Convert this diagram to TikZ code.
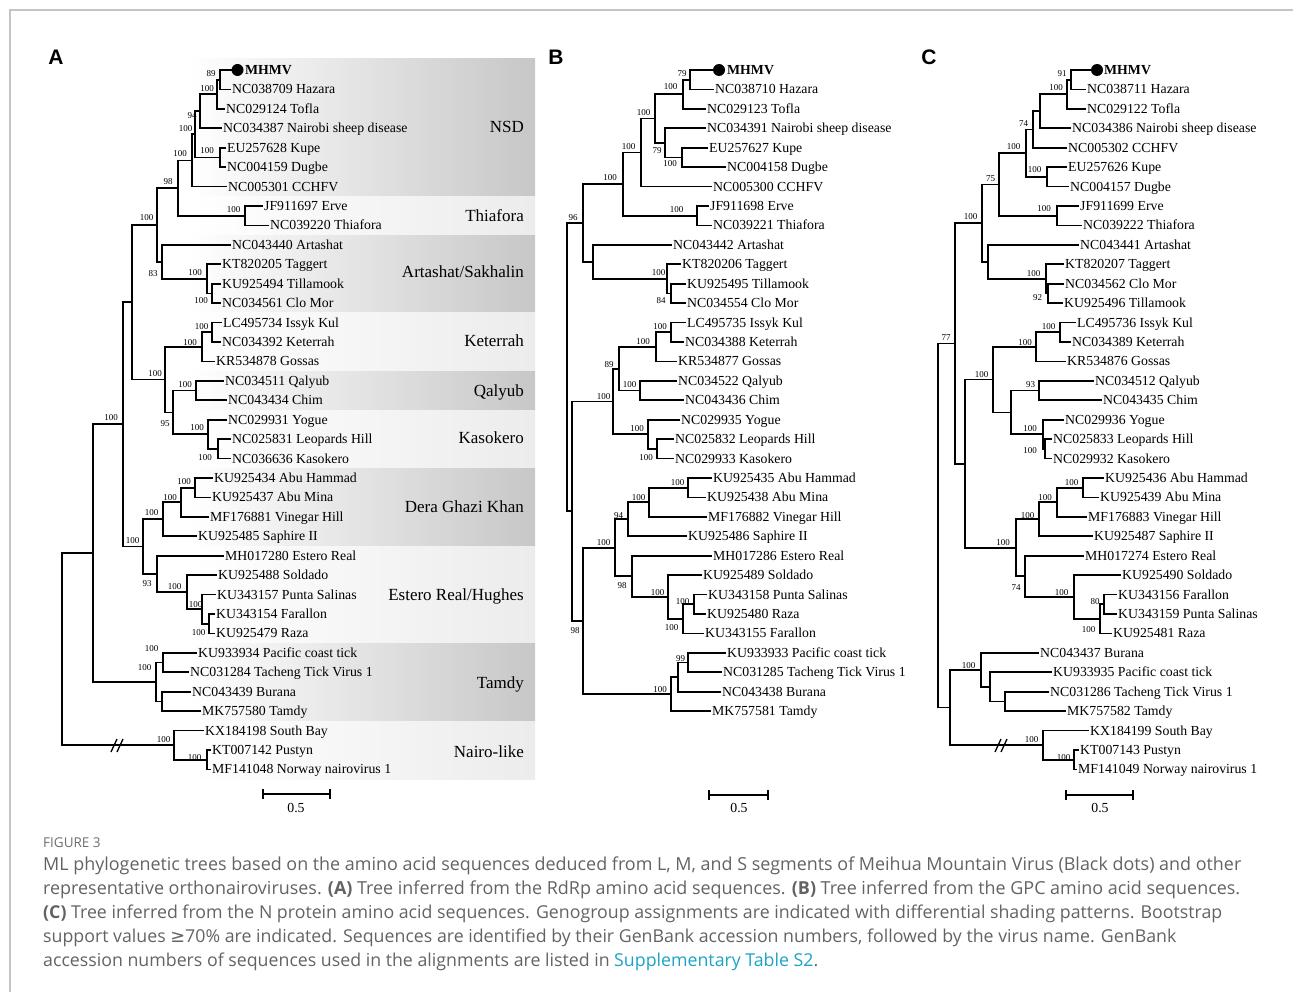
\documentclass[tikz,border=0pt]{standalone}
\usepackage{fontspec}
\usepackage{graphicx}
\setmainfont{Liberation Serif}
\newfontfamily\panelfont{Liberation Sans}
\newfontfamily\capfont{Open Sans}
\newfontfamily\symfont{DejaVu Sans}
\definecolor{bandD}{gray}{0.78}
\definecolor{bandL}{gray}{0.925}
\definecolor{captext}{HTML}{636363}
\definecolor{figlab}{HTML}{6E6E6E}
\definecolor{linkc}{HTML}{1BA3C6}
\definecolor{framec}{HTML}{C4C4C4}
\tikzset{
  br/.style={line width=1.75pt, line join=miter, line cap=rect},
  brk/.style={line width=1.3pt},
  leaf/.style={anchor=west, inner xsep=2pt, inner ysep=0pt, text height=9.1pt, text depth=0pt, font=\fontsize{13.8}{14}\selectfont},
  bs/.style={inner sep=0pt, text height=6.1pt, text depth=0pt, font=\fontsize{9}{10}\selectfont},
  bandlab/.style={anchor=east, inner sep=0pt, text height=11.3pt, text depth=0pt, font=\fontsize{17}{18}\selectfont},
  dot/.style={circle, fill=black, minimum size=12pt, inner sep=0pt},
  panel/.style={inner sep=0pt, font=\panelfont\bfseries\fontsize{21}{22}\selectfont},
  capline/.style={anchor=base west, inner sep=0pt, text=captext},
  sbar/.style={line width=1.75pt},
  sblab/.style={inner sep=0pt, text height=9.1pt, text depth=0pt, font=\fontsize{13.8}{14}\selectfont},
}
\newcommand\tleaf[4]{\coordinate (#1) at (#2,#3); \node[leaf] (#1t) at (#1) {#4};}
\newcommand\tjoin[3]{\draw[br] (#2) -| (#1) |- (#3);}
\newcommand\bsv[4]{\node[bs] (#1) at (#2,#3) {#4};}
\begin{document}
\begin{tikzpicture}[x=1pt,y=-1pt]
\useasboundingbox (0,0) rectangle (1293,992);
\draw[framec, line width=1.3pt] (10,992) -- (10,10) -- (1293,10);

% ---------- bands of tree A
\shade[left color=white, right color=bandD] (190,59) rectangle (535,196.4);
\shade[left color=white, right color=bandL] (190,196.4) rectangle (535,235.2);
\shade[left color=white, right color=bandD] (190,235.2) rectangle (535,313.0);
\shade[left color=white, right color=bandL] (190,313.0) rectangle (535,371.3);
\shade[left color=white, right color=bandD] (190,371.3) rectangle (535,410.2);
\shade[left color=white, right color=bandL] (190,410.2) rectangle (535,468.5);
\shade[left color=white, right color=bandD] (190,468.5) rectangle (535,546.3);
\shade[left color=white, right color=bandL] (190,546.3) rectangle (535,643.5);
\shade[left color=white, right color=bandD] (190,643.5) rectangle (535,721.2);
\shade[left color=white, right color=bandL] (190,721.2) rectangle (535,779.6);
\node[bandlab] (gNSD) at (524,127) {NSD};
\node[bandlab] (gThi) at (524,216) {Thiafora};
\node[bandlab] (gArt) at (524,272) {Artashat/Sakhalin};
\node[bandlab] (gKet) at (524,341) {Keterrah};
\node[bandlab] (gQal) at (524,391) {Qalyub};
\node[bandlab] (gKas) at (524,438) {Kasokero};
\node[bandlab] (gDGK) at (524,507) {Dera Ghazi Khan};
\node[bandlab] (gEst) at (524,595) {Estero Real/Hughes};
\node[bandlab] (gTam) at (524,683) {Tamdy};
\node[bandlab] (gNai) at (524,752) {Nairo-like};

\node[panel] (pA) at (56,57) {A};
\node[panel] (pB) at (556,57) {B};
\node[panel] (pC) at (929,57) {C};

% ---------- tree A
\begin{scope}[shift={(0,70)}, yscale=19.44]
\coordinate (A0) at (232,0);
\node[dot] (A0d) at (237.5,0) {};
\node[leaf] (A0t) at (243,0) {\textbf{MHMV}};
\tleaf{A1}{230}{1}{NC038709 Hazara}
\tleaf{A2}{224}{2}{NC029124 Tofla}
\tleaf{A3}{221}{3}{NC034387 Nairobi sheep disease}
\tleaf{A4}{225}{4}{EU257628 Kupe}
\tleaf{A5}{225}{5}{NC004159 Dugbe}
\tleaf{A6}{226}{6}{NC005301 CCHFV}
\tleaf{A7}{262}{7}{JF911697 Erve}
\tleaf{A8}{268}{8}{NC039220 Thiafora}
\tleaf{A9}{230}{9}{NC043440 Artashat}
\tleaf{A10}{220}{10}{KT820205 Taggert}
\tleaf{A11}{220}{11}{KU925494 Tillamook}
\tleaf{A12}{220}{12}{NC034561 Clo Mor}
\tleaf{A13}{221}{13}{LC495734 Issyk Kul}
\tleaf{A14}{220}{14}{NC034392 Keterrah}
\tleaf{A15}{214}{15}{KR534878 Gossas}
\tleaf{A16}{223}{16}{NC034511 Qalyub}
\tleaf{A17}{226}{17}{NC043434 Chim}
\tleaf{A18}{226}{18}{NC029931 Yogue}
\tleaf{A19}{230}{19}{NC025831 Leopards Hill}
\tleaf{A20}{230}{20}{NC036636 Kasokero}
\tleaf{A21}{212}{21}{KU925434 Abu Hammad}
\tleaf{A22}{210}{22}{KU925437 Abu Mina}
\tleaf{A23}{208}{23}{MF176881 Vinegar Hill}
\tleaf{A24}{196}{24}{KU925485 Saphire II}
\tleaf{A25}{223}{25}{MH017280 Estero Real}
\tleaf{A26}{216}{26}{KU925488 Soldado}
\tleaf{A27}{215}{27}{KU343157 Punta Salinas}
\tleaf{A28}{214}{28}{KU343154 Farallon}
\tleaf{A29}{214}{29}{KU925479 Raza}
\tleaf{A30}{196}{30}{KU933934 Pacific coast tick}
\tleaf{A31}{188}{31}{NC031284 Tacheng Tick Virus 1}
\tleaf{A32}{190}{32}{NC043439 Burana}
\tleaf{A33}{200}{33}{MK757580 Tamdy}
\tleaf{A34}{203}{34}{KX184198 South Bay}
\tleaf{A35}{210}{35}{KT007142 Pustyn}
\tleaf{A36}{210}{36}{MF141048 Norway nairovirus 1}
\coordinate (na1) at (220,0.5);
\coordinate (na2) at (217,1.25);
\coordinate (na3) at (200,2.125);
\coordinate (na4) at (220,4.5);
\coordinate (na5) at (195,3.3125);
\coordinate (na6) at (192,4.656);
\coordinate (naT) at (245,7.5);
\coordinate (na7) at (178,6.078);
\coordinate (naA3) at (212,11.5);
\coordinate (naA2) at (207,10.75);
\coordinate (naA1) at (162,9.875);
\coordinate (na8) at (157,7.977);
\coordinate (naK1) at (212,13.5);
\coordinate (naK2) at (202,14.25);
\coordinate (naQ) at (196,16.5);
\coordinate (naKa1) at (218,19.5);
\coordinate (naKa2) at (208,18.75);
\coordinate (naK3) at (173,17.625);
\coordinate (naK0) at (165,15.9375);
\coordinate (na9) at (132,11.957);
\coordinate (naD1) at (195,21.5);
\coordinate (naD2) at (181,22.25);
\coordinate (naD3) at (163,23.125);
\coordinate (naE4) at (209,28.5);
\coordinate (naE3) at (202,27.75);
\coordinate (naE2) at (187,26.875);
\coordinate (naE1) at (157,25.9375);
\coordinate (naD0) at (143,24.53);
\coordinate (na10) at (123,18.24);
\coordinate (naT1) at (163,30.5);
\coordinate (naT2) at (162,32.5);
\coordinate (naT0) at (156,31.5);
\coordinate (na11) at (93,24.87);
\coordinate (naR1) at (207,35.5);
\coordinate (naR0) at (174,34.75);
\coordinate (naRoot) at (62,29.81);
\tjoin{na1}{A0}{A1}
\tjoin{na2}{na1}{A2}
\tjoin{na3}{na2}{A3}
\tjoin{na4}{A4}{A5}
\tjoin{na5}{na3}{na4}
\tjoin{na6}{na5}{A6}
\tjoin{naT}{A7}{A8}
\tjoin{na7}{na6}{naT}
\tjoin{naA3}{A11}{A12}
\tjoin{naA2}{A10}{naA3}
\tjoin{naA1}{A9}{naA2}
\tjoin{na8}{na7}{naA1}
\tjoin{naK1}{A13}{A14}
\tjoin{naK2}{naK1}{A15}
\tjoin{naQ}{A16}{A17}
\tjoin{naKa1}{A19}{A20}
\tjoin{naKa2}{A18}{naKa1}
\tjoin{naK3}{naQ}{naKa2}
\tjoin{naK0}{naK2}{naK3}
\tjoin{na9}{na8}{naK0}
\tjoin{naD1}{A21}{A22}
\tjoin{naD2}{naD1}{A23}
\tjoin{naD3}{naD2}{A24}
\tjoin{naE4}{A28}{A29}
\tjoin{naE3}{A27}{naE4}
\tjoin{naE2}{A26}{naE3}
\tjoin{naE1}{A25}{naE2}
\tjoin{naD0}{naD3}{naE1}
\tjoin{na10}{na9}{naD0}
\tjoin{naT1}{A30}{A31}
\tjoin{naT2}{A32}{A33}
\tjoin{naT0}{naT1}{naT2}
\tjoin{na11}{na10}{naT0}
\tjoin{naR1}{A35}{A36}
\tjoin{naR0}{A34}{naR1}
\tjoin{naRoot}{na11}{naR0}
\end{scope}
\draw[brk] (111,752) -- (117,739) (117,752) -- (123,739);

\bsv{la1}{211}{73}{89}
\bsv{la2}{207}{88.5}{100}
\bsv{la3}{192}{115}{94}
\bsv{la4}{185.5}{128.5}{100}
\bsv{la5}{207}{150}{100}
\bsv{la6}{180}{153}{100}
\bsv{la7}{168}{181.5}{98}
\bsv{la8}{233.5}{209.5}{100}
\bsv{la9}{146.5}{217.5}{100}
\bsv{la10}{153}{273}{83}
\bsv{la11}{195}{272.5}{100}
\bsv{la12}{201}{300}{100}
\bsv{la13}{201.5}{326.5}{100}
\bsv{la14}{190}{342.5}{100}
\bsv{la15}{155}{373.5}{100}
\bsv{la16}{185}{384.5}{100}
\bsv{la17}{111}{417}{100}
\bsv{la18}{165}{423}{95}
\bsv{la19}{197}{427}{100}
\bsv{la20}{205}{457}{100}
\bsv{la21}{184}{481.5}{100}
\bsv{la22}{170}{497.5}{100}
\bsv{la23}{151.5}{512.5}{100}
\bsv{la24}{132.5}{540.5}{100}
\bsv{la25}{147}{583}{93}
\bsv{la26}{174.5}{586.5}{100}
\bsv{la27}{195.5}{604}{100}
\bsv{la28}{198.5}{632}{100}
\bsv{la29}{151.5}{648.5}{100}
\bsv{la30}{144.5}{667.5}{100}
\bsv{la31}{163.5}{739.5}{100}
\bsv{la32}{194.5}{757}{100}

% ---------- tree B
\begin{scope}[shift={(0,70)}, yscale=19.44]
\coordinate (B0) at (712,0);
\node[dot] (B0d) at (719,0) {};
\node[leaf] (B0t) at (725,0) {\textbf{MHMV}};
\tleaf{B1}{713}{1}{NC038710 Hazara}
\tleaf{B2}{705}{2}{NC029123 Tofla}
\tleaf{B3}{705}{3}{NC034391 Nairobi sheep disease}
\tleaf{B4}{707}{4}{EU257627 Kupe}
\tleaf{B5}{725}{5}{NC004158 Dugbe}
\tleaf{B6}{711}{6}{NC005300 CCHFV}
\tleaf{B7}{708}{7}{JF911698 Erve}
\tleaf{B8}{711}{8}{NC039221 Thiafora}
\tleaf{B9}{671}{9}{NC043442 Artashat}
\tleaf{B10}{680}{10}{KT820206 Taggert}
\tleaf{B11}{685}{11}{KU925495 Tillamook}
\tleaf{B12}{685}{12}{NC034554 Clo Mor}
\tleaf{B13}{685}{13}{LC495735 Issyk Kul}
\tleaf{B14}{683}{14}{NC034388 Keterrah}
\tleaf{B15}{676}{15}{KR534877 Gossas}
\tleaf{B16}{676}{16}{NC034522 Qalyub}
\tleaf{B17}{683}{17}{NC043436 Chim}
\tleaf{B18}{679}{18}{NC029935 Yogue}
\tleaf{B19}{673}{19}{NC025832 Leopards Hill}
\tleaf{B20}{673}{20}{NC029933 Kasokero}
\tleaf{B21}{711}{21}{KU925435 Abu Hammad}
\tleaf{B22}{705}{22}{KU925438 Abu Mina}
\tleaf{B23}{706}{23}{MF176882 Vinegar Hill}
\tleaf{B24}{686}{24}{KU925486 Saphire II}
\tleaf{B25}{711}{25}{MH017286 Estero Real}
\tleaf{B26}{701}{26}{KU925489 Soldado}
\tleaf{B27}{706}{27}{KU343158 Punta Salinas}
\tleaf{B28}{705}{28}{KU925480 Raza}
\tleaf{B29}{703}{29}{KU343155 Farallon}
\tleaf{B30}{725}{30}{KU933933 Pacific coast tick}
\tleaf{B31}{721}{31}{NC031285 Tacheng Tick Virus 1}
\tleaf{B32}{720}{32}{NC043438 Burana}
\tleaf{B33}{710}{33}{MK757581 Tamdy}
\coordinate (nb1) at (690,0.5);
\coordinate (nb2) at (683,1.25);
\coordinate (nb4) at (682,4.5);
\coordinate (nb3) at (665,3.75);
\coordinate (nb5) at (655,2.5);
\coordinate (nb6) at (641,4.25);
\coordinate (nbT) at (697,7.5);
\coordinate (nb7) at (623,5.875);
\coordinate (nbA3) at (671,11.5);
\coordinate (nbA2) at (667,10.75);
\coordinate (nbA) at (593,9.875);
\coordinate (nb8) at (583,7.875);
\coordinate (nbKe1) at (671,13.5);
\coordinate (nbKe) at (656,14.25);
\coordinate (nbQ) at (640,16.5);
\coordinate (nbKQ) at (619,15.375);
\coordinate (nbKa1) at (657,19.5);
\coordinate (nbKa) at (648,18.75);
\coordinate (nbK) at (613,17.0625);
\coordinate (nbD1) at (688,21.5);
\coordinate (nbD2) at (649,22.25);
\coordinate (nbD3) at (628,23.125);
\coordinate (nbE4) at (694,27.5);
\coordinate (nbE3) at (683,28.25);
\coordinate (nbE2) at (668,27.125);
\coordinate (nbE) at (632,26.0625);
\coordinate (nbDE) at (615,24.59375);
\coordinate (nbTa1) at (688,30.5);
\coordinate (nbTa2) at (678,31.25);
\coordinate (nbTam) at (671,32.125);
\coordinate (nb11) at (583,28.359);
\coordinate (nb10) at (572,22.711);
\coordinate (nb9) at (567,15.293);
\tjoin{nb1}{B0}{B1}
\tjoin{nb2}{nb1}{B2}
\tjoin{nb4}{B4}{B5}
\tjoin{nb3}{B3}{nb4}
\tjoin{nb5}{nb2}{nb3}
\tjoin{nb6}{nb5}{B6}
\tjoin{nbT}{B7}{B8}
\tjoin{nb7}{nb6}{nbT}
\tjoin{nbA3}{B11}{B12}
\tjoin{nbA2}{B10}{nbA3}
\tjoin{nbA}{B9}{nbA2}
\tjoin{nb8}{nb7}{nbA}
\tjoin{nbKe1}{B13}{B14}
\tjoin{nbKe}{nbKe1}{B15}
\tjoin{nbQ}{B16}{B17}
\tjoin{nbKQ}{nbKe}{nbQ}
\tjoin{nbKa1}{B19}{B20}
\tjoin{nbKa}{B18}{nbKa1}
\tjoin{nbK}{nbKQ}{nbKa}
\tjoin{nbD1}{B21}{B22}
\tjoin{nbD2}{nbD1}{B23}
\tjoin{nbD3}{nbD2}{B24}
\tjoin{nbE4}{B27}{B28}
\tjoin{nbE3}{nbE4}{B29}
\tjoin{nbE2}{B26}{nbE3}
\tjoin{nbE}{B25}{nbE2}
\tjoin{nbDE}{nbD3}{nbE}
\tjoin{nbTa1}{B30}{B31}
\tjoin{nbTa2}{nbTa1}{B32}
\tjoin{nbTam}{nbTa2}{B33}
\tjoin{nb11}{nbDE}{nbTam}
\tjoin{nb10}{nbK}{nb11}
\tjoin{nb9}{nb8}{nb10}
\end{scope}

\bsv{lb1}{682}{73}{79}
\bsv{lb2}{670.5}{86}{100}
\bsv{lb3}{643.5}{112.5}{100}
\bsv{lb4}{628.5}{146}{100}
\bsv{lb5}{657}{150}{79}
\bsv{lb6}{670}{163}{100}
\bsv{lb7}{610}{177}{100}
\bsv{lb8}{676.5}{209.5}{100}
\bsv{lb9}{573}{217}{96}
\bsv{lb10}{658.5}{272.5}{100}
\bsv{lb11}{661}{300}{84}
\bsv{lb12}{660}{326.5}{100}
\bsv{lb13}{643}{341.5}{100}
\bsv{lb14}{609}{364}{89}
\bsv{lb15}{629.5}{384.5}{100}
\bsv{lb16}{603.5}{396.5}{100}
\bsv{lb17}{637}{428.5}{100}
\bsv{lb18}{646}{457}{100}
\bsv{lb19}{677.5}{482.5}{100}
\bsv{lb20}{638.5}{497.5}{100}
\bsv{lb21}{618.5}{515.5}{94}
\bsv{lb22}{603.5}{542.5}{100}
\bsv{lb23}{622}{585}{98}
\bsv{lb24}{657.5}{592.5}{100}
\bsv{lb25}{682.5}{601}{100}
\bsv{lb26}{671.5}{627}{100}
\bsv{lb27}{575}{630}{98}
\bsv{lb28}{680.5}{658.5}{99}
\bsv{lb29}{660}{689}{100}

% ---------- tree C
\begin{scope}[shift={(0,70)}, yscale=19.44]
\coordinate (C0) at (1091,0);
\node[dot] (C0d) at (1097,0) {};
\node[leaf] (C0t) at (1102,0) {\textbf{MHMV}};
\tleaf{C1}{1085}{1}{NC038711 Hazara}
\tleaf{C2}{1085}{2}{NC029122 Tofla}
\tleaf{C3}{1070}{3}{NC034386 Nairobi sheep disease}
\tleaf{C4}{1066}{4}{NC005302 CCHFV}
\tleaf{C5}{1066}{5}{EU257626 Kupe}
\tleaf{C6}{1068}{6}{NC004157 Dugbe}
\tleaf{C7}{1078}{7}{JF911699 Erve}
\tleaf{C8}{1081}{8}{NC039222 Thiafora}
\tleaf{C9}{1078}{9}{NC043441 Artashat}
\tleaf{C10}{1063}{10}{KT820207 Taggert}
\tleaf{C11}{1063}{11}{NC034562 Clo Mor}
\tleaf{C12}{1062}{12}{KU925496 Tillamook}
\tleaf{C13}{1075}{13}{LC495736 Issyk Kul}
\tleaf{C14}{1070}{14}{NC034389 Keterrah}
\tleaf{C15}{1065}{15}{KR534876 Gossas}
\tleaf{C16}{1093}{16}{NC034512 Qalyub}
\tleaf{C17}{1101}{17}{NC043435 Chim}
\tleaf{C18}{1063}{18}{NC029936 Yogue}
\tleaf{C19}{1051}{19}{NC025833 Leopards Hill}
\tleaf{C20}{1051}{20}{NC029932 Kasokero}
\tleaf{C21}{1103}{21}{KU925436 Abu Hammad}
\tleaf{C22}{1098}{22}{KU925439 Abu Mina}
\tleaf{C23}{1086}{23}{MF176883 Vinegar Hill}
\tleaf{C24}{1092}{24}{KU925487 Saphire II}
\tleaf{C25}{1083}{25}{MH017274 Estero Real}
\tleaf{C26}{1120}{26}{KU925490 Soldado}
\tleaf{C27}{1116}{27}{KU343156 Farallon}
\tleaf{C28}{1116}{28}{KU343159 Punta Salinas}
\tleaf{C29}{1111}{29}{KU925481 Raza}
\tleaf{C30}{1038}{30}{NC043437 Burana}
\tleaf{C31}{1051}{31}{KU933935 Pacific coast tick}
\tleaf{C32}{1048}{32}{NC031286 Tacheng Tick Virus 1}
\tleaf{C33}{1065}{33}{MK757582 Tamdy}
\tleaf{C34}{1088}{34}{KX184199 South Bay}
\tleaf{C35}{1078}{35}{KT007143 Pustyn}
\tleaf{C36}{1076}{36}{MF141049 Norway nairovirus 1}
\coordinate (nc1) at (1071,0.5);
\coordinate (nc2) at (1067,1.25);
\coordinate (nc3) at (1040,2.125);
\coordinate (nc4) at (1033,3.0625);
\coordinate (ncKD) at (1047,5.5);
\coordinate (nc5) at (1026,4.28125);
\coordinate (ncT) at (1057,7.5);
\coordinate (nc6) at (999,5.890625);
\coordinate (ncA3) at (1048,11.5);
\coordinate (ncA2) at (1046,10.75);
\coordinate (ncA) at (988,9.875);
\coordinate (nc7) at (982,7.8828);
\coordinate (ncKe1) at (1060,13.5);
\coordinate (ncKe) at (1036,14.25);
\coordinate (ncQ) at (1039,16.5);
\coordinate (ncKa1) at (1045,19.5);
\coordinate (ncKa) at (1043,18.75);
\coordinate (ncQK) at (1011,17.625);
\coordinate (ncK) at (993,15.9375);
\coordinate (ncD1) at (1083,21.5);
\coordinate (ncD2) at (1057,22.25);
\coordinate (ncD3) at (1039,23.125);
\coordinate (ncE4) at (1104,27.5);
\coordinate (ncE3) at (1100,28.25);
\coordinate (ncE2) at (1074,27.125);
\coordinate (ncE) at (1025,26.0625);
\coordinate (ncDE) at (1016,24.59375);
\coordinate (nc9) at (965,20.2656);
\coordinate (nc8) at (955,14.0742);
\coordinate (ncTa3) at (1005,32.5);
\coordinate (ncTa2) at (990,31.75);
\coordinate (ncTam) at (981,30.875);
\coordinate (ncN1) at (1074,35.5);
\coordinate (ncN) at (1043,34.75);
\coordinate (ncTN) at (950,32.8125);
\coordinate (nc10) at (938,23.4434);
\tjoin{nc1}{C0}{C1}
\tjoin{nc2}{nc1}{C2}
\tjoin{nc3}{nc2}{C3}
\tjoin{nc4}{nc3}{C4}
\tjoin{ncKD}{C5}{C6}
\tjoin{nc5}{nc4}{ncKD}
\tjoin{ncT}{C7}{C8}
\tjoin{nc6}{nc5}{ncT}
\tjoin{ncA3}{C11}{C12}
\tjoin{ncA2}{C10}{ncA3}
\tjoin{ncA}{C9}{ncA2}
\tjoin{nc7}{nc6}{ncA}
\tjoin{ncKe1}{C13}{C14}
\tjoin{ncKe}{ncKe1}{C15}
\tjoin{ncQ}{C16}{C17}
\tjoin{ncKa1}{C19}{C20}
\tjoin{ncKa}{C18}{ncKa1}
\tjoin{ncQK}{ncQ}{ncKa}
\tjoin{ncK}{ncKe}{ncQK}
\tjoin{ncD1}{C21}{C22}
\tjoin{ncD2}{ncD1}{C23}
\tjoin{ncD3}{ncD2}{C24}
\tjoin{ncE4}{C27}{C28}
\tjoin{ncE3}{ncE4}{C29}
\tjoin{ncE2}{C26}{ncE3}
\tjoin{ncE}{C25}{ncE2}
\tjoin{ncDE}{ncD3}{ncE}
\tjoin{nc9}{ncK}{ncDE}
\tjoin{nc8}{nc7}{nc9}
\tjoin{ncTa3}{C32}{C33}
\tjoin{ncTa2}{C31}{ncTa3}
\tjoin{ncTam}{C30}{ncTa2}
\tjoin{ncN1}{C35}{C36}
\tjoin{ncN}{C34}{ncN1}
\tjoin{ncTN}{ncTam}{ncN}
\tjoin{nc10}{nc8}{ncTN}
\end{scope}
\draw[brk] (995,752) -- (1001,739) (1001,752) -- (1007,739);

\bsv{lc1}{1062}{73}{91}
\bsv{lc2}{1056}{87.5}{100}
\bsv{lc3}{1023.5}{123.5}{74}
\bsv{lc4}{1013.5}{146.5}{100}
\bsv{lc5}{1034.5}{169.5}{100}
\bsv{lc6}{990.5}{178.5}{75}
\bsv{lc7}{1044}{208.5}{100}
\bsv{lc8}{970.5}{216.5}{100}
\bsv{lc9}{1033.5}{273.5}{100}
\bsv{lc10}{1037.5}{297}{92}
\bsv{lc11}{1048.5}{326.5}{100}
\bsv{lc12}{946}{337.5}{77}
\bsv{lc13}{1025}{342.5}{100}
\bsv{lc14}{981.5}{374.5}{100}
\bsv{lc15}{1030.5}{384.5}{93}
\bsv{lc16}{1030}{428.5}{100}
\bsv{lc17}{1030}{450}{100}
\bsv{lc18}{1071.5}{482.5}{100}
\bsv{lc19}{1045}{497.5}{100}
\bsv{lc20}{1027.5}{515.5}{100}
\bsv{lc21}{1003}{542.5}{100}
\bsv{lc22}{1016}{587}{74}
\bsv{lc23}{1061.5}{592.5}{100}
\bsv{lc24}{1095}{601.5}{80}
\bsv{lc25}{1088.5}{629}{100}
\bsv{lc26}{968.5}{665.5}{100}
\bsv{lc27}{1031.5}{739.5}{100}
\bsv{lc28}{1063.5}{757}{100}

% ---------- scale bars
\coordinate (sA1) at (263,794); \coordinate (sA2) at (330,794);
\draw[sbar] (sA1) -- (sA2) (263,789) -- (263,799) (330,789) -- (330,799);
\node[sblab] (sAt) at (296,808) {0.5};
\coordinate (sB1) at (709,795); \coordinate (sB2) at (768,795);
\draw[sbar] (sB1) -- (sB2) (709,790) -- (709,800) (768,790) -- (768,800);
\node[sblab] (sBt) at (739,808) {0.5};
\coordinate (sC1) at (1066,795); \coordinate (sC2) at (1133,795);
\draw[sbar] (sC1) -- (sC2) (1066,790) -- (1066,800) (1133,790) -- (1133,800);
\node[sblab] (sCt) at (1100,808) {0.5};

% ---------- caption
\node[anchor=base west, inner sep=0pt, text=figlab, font=\capfont\fontsize{13.5}{15}\selectfont] (cap0) at (43,847) {FIGURE 3};
\node[capline] (cap1) at (43,870.5) {\resizebox{1198pt}{!}{\capfont\fontsize{16.5}{18}\selectfont ML phylogenetic trees based on the amino acid sequences deduced from L, M, and S segments of Meihua Mountain Virus (Black dots) and other}};
\node[capline] (cap2) at (43,894.5) {\resizebox{1197pt}{!}{\capfont\fontsize{16.5}{18}\selectfont representative orthonairoviruses. \textbf{(A)} Tree inferred from the RdRp amino acid sequences. \textbf{(B)} Tree inferred from the GPC amino acid sequences.}};
\node[capline] (cap3) at (43,918.5) {\resizebox{1179pt}{!}{\capfont\fontsize{16.5}{18}\selectfont \textbf{(C)} Tree inferred from the N protein amino acid sequences. Genogroup assignments are indicated with differential shading patterns. Bootstrap}};
\node[capline] (cap4) at (43,942.5) {\resizebox{1133pt}{!}{\capfont\fontsize{16.5}{18}\selectfont support values {\symfont ≥}70\% are indicated. Sequences are identified by their GenBank accession numbers, followed by the virus name. GenBank}};
\node[capline] (cap5) at (43,966.5) {\resizebox{775pt}{!}{\capfont\fontsize{16.5}{18}\selectfont accession numbers of sequences used in the alignments are listed in \textcolor{linkc}{Supplementary Table S2}.}};
\end{tikzpicture}
\end{document}
